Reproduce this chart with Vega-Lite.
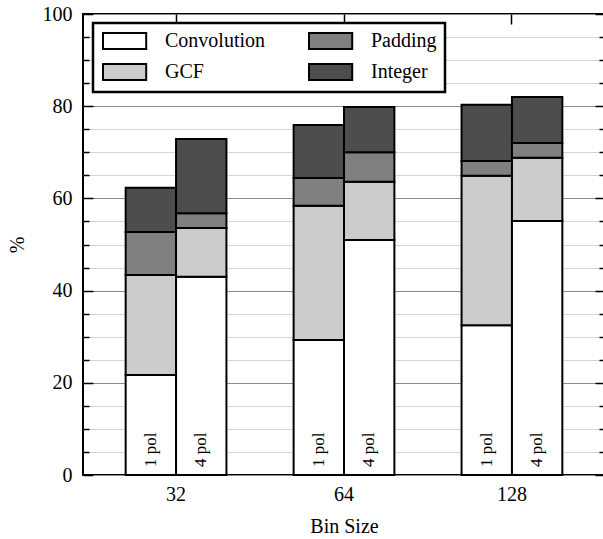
{
  "$schema": "https://vega.github.io/schema/vega-lite/v6.json",
  "width": 522,
  "height": 461,
  "autosize": "none",
  "padding": {"left": 83, "top": 14, "right": 0, "bottom": 64},
  "background": "white",
  "config": {
    "view": {"stroke": "black", "strokeWidth": 2},
    "font": "Liberation Serif",
    "text": {"font": "Liberation Serif"},
    "axis": {"labelFont": "Liberation Serif", "titleFont": "Liberation Serif", "labelColor": "black", "titleColor": "black", "titleFontWeight": "normal", "domain": false},
    "legend": {"labelFont": "Liberation Serif", "fillColor": "white", "strokeColor": "black", "strokeWidth": 2.5, "padding": 8}
  },
  "data": {
    "values": [
      {"bin": "32", "pol": "1 pol", "component": "Convolution", "value": 21.7},
      {"bin": "32", "pol": "1 pol", "component": "GCF", "value": 21.7},
      {"bin": "32", "pol": "1 pol", "component": "Padding", "value": 9.3},
      {"bin": "32", "pol": "1 pol", "component": "Integer", "value": 9.6},
      {"bin": "32", "pol": "4 pol", "component": "Convolution", "value": 43.0},
      {"bin": "32", "pol": "4 pol", "component": "GCF", "value": 10.6},
      {"bin": "32", "pol": "4 pol", "component": "Padding", "value": 3.2},
      {"bin": "32", "pol": "4 pol", "component": "Integer", "value": 16.1},
      {"bin": "64", "pol": "1 pol", "component": "Convolution", "value": 29.3},
      {"bin": "64", "pol": "1 pol", "component": "GCF", "value": 29.1},
      {"bin": "64", "pol": "1 pol", "component": "Padding", "value": 6.0},
      {"bin": "64", "pol": "1 pol", "component": "Integer", "value": 11.5},
      {"bin": "64", "pol": "4 pol", "component": "Convolution", "value": 51.0},
      {"bin": "64", "pol": "4 pol", "component": "GCF", "value": 12.6},
      {"bin": "64", "pol": "4 pol", "component": "Padding", "value": 6.4},
      {"bin": "64", "pol": "4 pol", "component": "Integer", "value": 9.8},
      {"bin": "128", "pol": "1 pol", "component": "Convolution", "value": 32.5},
      {"bin": "128", "pol": "1 pol", "component": "GCF", "value": 32.4},
      {"bin": "128", "pol": "1 pol", "component": "Padding", "value": 3.2},
      {"bin": "128", "pol": "1 pol", "component": "Integer", "value": 12.2},
      {"bin": "128", "pol": "4 pol", "component": "Convolution", "value": 55.1},
      {"bin": "128", "pol": "4 pol", "component": "GCF", "value": 13.7},
      {"bin": "128", "pol": "4 pol", "component": "Padding", "value": 3.2},
      {"bin": "128", "pol": "4 pol", "component": "Integer", "value": 10.0}
    ]
  },
  "transform": [
    {"calculate": "indexof(['Convolution','GCF','Padding','Integer'], datum.component)", "as": "stackOrder"}
  ],
  "layer": [
    {
      "mark": {"type": "bar", "stroke": "black", "strokeWidth": 2, "strokeJoin": "miter"},
      "encoding": {
        "x": {
          "field": "bin", "type": "ordinal", "sort": ["32", "64", "128"],
          "scale": {"paddingInner": 0.4, "paddingOuter": 0.254},
          "axis": {"orient": "bottom", "title": "Bin Size", "labelAngle": 0, "labelFont": "Liberation Serif", "titleFont": "Liberation Serif", "labelFontSize": 20, "titleFontSize": 20, "ticks": false, "labelPadding": 9, "titlePadding": 12}
        },
        "xOffset": {"field": "pol", "type": "nominal", "sort": ["1 pol", "4 pol"], "scale": {"paddingInner": 0, "paddingOuter": 0}},
        "y": {
          "field": "value", "type": "quantitative", "stack": "zero",
          "scale": {"domain": [0, 100], "nice": false},
          "axis": {
            "orient": "left", "title": "%", "titleFont": "Liberation Serif", "titleFontSize": 20, "titlePadding": 15,
            "values": [0, 5, 10, 15, 20, 25, 30, 35, 40, 45, 50, 55, 60, 65, 70, 75, 80, 85, 90, 95, 100],
            "labelExpr": "datum.value % 20 === 0 ? datum.label : ''",
            "labelFont": "Liberation Serif", "labelFontSize": 20, "labelPadding": 21,
            "tickColor": "black", "tickWidth": 1.5,
            "tickSize": {"condition": {"test": "datum.value % 20 === 0", "value": -10}, "value": -6},
            "grid": true,
            "gridColor": {"condition": {"test": "datum.value % 20 === 0", "value": "#8c8c8c"}, "value": "#d4d4d4"},
            "gridWidth": 1.2
          }
        },
        "color": {
          "field": "component", "type": "nominal",
          "scale": {"domain": ["Convolution", "GCF", "Padding", "Integer"], "range": ["#ffffff", "#cccccc", "#808080", "#4d4d4d"]},
          "legend": {
            "title": null, "orient": "none", "legendX": 10, "legendY": 9, "columns": 2,
            "symbolType": "M-1,-1H4.4V1H-1Z", "symbolSize": 256,
            "symbolStrokeColor": "black", "symbolStrokeWidth": 2, "symbolOpacity": 1,
            "labelFont": "Liberation Serif", "labelFontSize": 20, "labelColor": "black", "labelOffset": 44,
            "columnPadding": 39, "rowPadding": 7
          }
        },
        "order": {"field": "stackOrder", "type": "quantitative", "sort": "ascending"}
      }
    },
    {
      "transform": [{"filter": "datum.component === 'Convolution'"}],
      "mark": {"type": "text", "angle": 270, "align": "left", "baseline": "middle", "dx": 8, "fontSize": 17, "font": "Liberation Serif", "color": "black"},
      "encoding": {
        "x": {
          "field": "bin", "type": "ordinal", "sort": ["32", "64", "128"],
          "axis": {"orient": "top", "title": null, "labels": false, "ticks": true, "tickSize": -10, "tickColor": "black", "tickWidth": 1.5, "grid": false}
        },
        "xOffset": {"field": "pol", "type": "nominal", "sort": ["1 pol", "4 pol"]},
        "y": {
          "datum": 0, "type": "quantitative",
          "axis": {
            "orient": "right", "title": null, "labels": false, "grid": false,
            "values": [0, 5, 10, 15, 20, 25, 30, 35, 40, 45, 50, 55, 60, 65, 70, 75, 80, 85, 90, 95, 100],
            "tickColor": "black", "tickWidth": 1.5,
            "tickSize": {"condition": {"test": "datum.value % 20 === 0", "value": -10}, "value": -6}
          }
        },
        "text": {"field": "pol"}
      }
    }
  ],
  "resolve": {"axis": {"x": "independent", "y": "independent"}}
}
